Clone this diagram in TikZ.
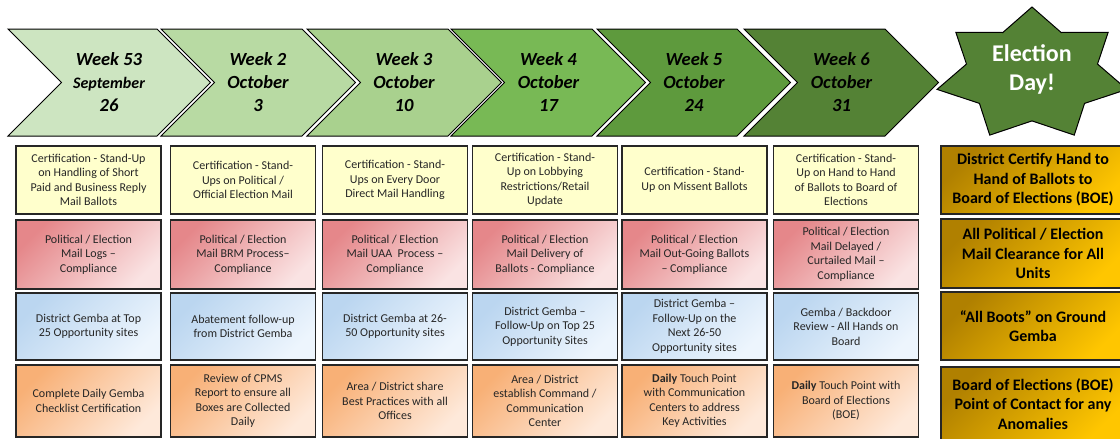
\documentclass[tikz,border=0pt]{standalone}
\usepackage{fontspec}
\setmainfont{Carlito}

\definecolor{wkA}{HTML}{CDE5C1}
\definecolor{wkB}{HTML}{B8DAA3}
\definecolor{wkC}{HTML}{A9D18E}
\definecolor{wkD}{HTML}{78B955}
\definecolor{wkE}{HTML}{5E9A3D}
\definecolor{wkF}{HTML}{548235}
\definecolor{certY}{HTML}{FFFFCC}
\definecolor{compA}{HTML}{E5878A}
\definecolor{compB}{HTML}{FAE3E3}
\definecolor{gembaA}{HTML}{BBD6F0}
\definecolor{gembaB}{HTML}{EDF5FD}
\definecolor{dailyA}{HTML}{F8B076}
\definecolor{dailyB}{HTML}{FEE9DA}
\definecolor{goldA}{HTML}{B08000}
\definecolor{goldB}{HTML}{FFC600}

\begin{document}
\begin{tikzpicture}[x=1pt, y=-1pt,
    chevron/.style={draw=black, line width=1pt},
    week/.style={align=center, inner sep=0pt, font=\fontsize{18.5}{23}\selectfont\bfseries\itshape},
    task/.style={draw=black!85, line width=1.3pt, align=center, minimum width=145pt,
        inner sep=1pt, text=black!85, font=\fontsize{12}{14.5}\selectfont},
    cert/.style={task, fill=certY, minimum height=68pt},
    comp/.style={task, top color=compA, bottom color=compB, shading angle=45, minimum height=69pt},
    gemba/.style={task, top color=gembaA, bottom color=gembaB, shading angle=45, minimum height=67pt},
    touch/.style={task, top color=dailyA, bottom color=dailyB, shading angle=45, minimum height=72pt},
    eday/.style={task, top color=goldA, bottom color=goldB, shading angle=45, minimum width=184pt,
        text=black, font=\fontsize{16}{19.5}\selectfont\bfseries}]
    \useasboundingbox (0, 0) rectangle (1120, 439);

    \draw[chevron, fill=wkA] (8, 29) -- (157, 29) -- (210.5, 82.5) -- (157, 136) -- (8, 136) -- (61.5, 82.5) -- cycle;
    \draw[chevron, fill=wkB] (161, 29) -- (302, 29) -- (355.5, 82.5) -- (302, 136) -- (161, 136) -- (214.5, 82.5) -- cycle;
    \draw[chevron, fill=wkC] (307, 29) -- (448, 29) -- (501.5, 82.5) -- (448, 136) -- (307, 136) -- (360.5, 82.5) -- cycle;
    \draw[chevron, fill=wkD] (451, 29) -- (592, 29) -- (645.5, 82.5) -- (592, 136) -- (451, 136) -- (504.5, 82.5) -- cycle;
    \draw[chevron, fill=wkE] (597, 29) -- (737, 29) -- (790.5, 82.5) -- (737, 136) -- (597, 136) -- (650.5, 82.5) -- cycle;
    \draw[chevron, fill=wkF] (744, 29) -- (885, 29) -- (938.5, 82.5) -- (885, 136) -- (744, 136) -- (797.5, 82.5) -- cycle;

    \node[week](wk_53) at (109, 82.5) {Week 53\\{\fontsize{16}{23}\selectfont September}\\26};
    \node[week](wk_2) at (258, 82.5) {Week 2\\October\\3};
    \node[week](wk_3) at (404, 82.5) {Week 3\\October\\10};
    \node[week](wk_4) at (548.5, 82.5) {Week 4\\October\\17};
    \node[week](wk_5) at (694, 82.5) {Week 5\\October\\24};
    \node[week](wk_6) at (841.5, 82.5) {Week 6\\October\\31};

    \draw[fill=wkF, line width=1pt] plot[variable=\t, samples at={0,...,13}]
        ({1032+97.4*(1-0.31*mod(\t,2))*cos(90+25.7143*\t)}, {74.4-67.4*(1-0.31*mod(\t,2))*sin(90+25.7143*\t)}) -- cycle;
    \node[align=center, text=white, font=\fontsize{24}{29}\selectfont\bfseries](eday) at (1032, 69) {Election\\Day!};

    \node[cert](cert_1) at (88.5, 180) {Certification - Stand-Up\\on Handling of Short\\Paid and Business Reply\\Mail Ballots};
    \node[cert](cert_2) at (243, 180) {Certification - Stand-\\Ups on Political /\\Official Election Mail};
    \node[cert](cert_3) at (395, 180) {Certification - Stand-\\Ups on Every Door\\Direct Mail Handling};
    \node[cert](cert_4) at (545, 180) {Certification - Stand-\\Up on Lobbying\\Restrictions/Retail\\Update};
    \node[cert](cert_5) at (694.5, 180) {Certification - Stand-\\Up on Missent Ballots};
    \node[cert](cert_6) at (846, 180) {Certification - Stand-\\Up on Hand to Hand\\of Ballots to Board of\\Elections};

    \node[comp](comp_1) at (88.5, 254.5) {Political / Election\\Mail Logs --\\Compliance};
    \node[comp](comp_2) at (243, 254.5) {Political / Election\\Mail BRM Process--\\Compliance};
    \node[comp](comp_3) at (395, 254.5) {Political / Election\\Mail UAA\ \ Process --\\Compliance};
    \node[comp](comp_4) at (545, 254.5) {Political / Election\\Mail Delivery of\\Ballots - Compliance};
    \node[comp](comp_5) at (694.5, 254.5) {Political / Election\\Mail Out-Going Ballots\\-- Compliance};
    \node[comp](comp_6) at (846, 254.5) {Political / Election\\Mail Delayed /\\Curtailed Mail --\\Compliance};

    \node[gemba](gemba_1) at (88.5, 326.5) {District Gemba at Top\\25 Opportunity sites};
    \node[gemba](gemba_2) at (243, 326.5) {Abatement follow-up\\from District Gemba};
    \node[gemba](gemba_3) at (395, 326.5) {District Gemba at 26-\\50 Opportunity sites};
    \node[gemba](gemba_4) at (545, 326.5) {District Gemba --\\Follow-Up on Top 25\\Opportunity Sites};
    \node[gemba](gemba_5) at (694.5, 326.5) {District Gemba --\\Follow-Up on the\\Next 26-50\\Opportunity sites};
    \node[gemba](gemba_6) at (846, 326.5) {Gemba / Backdoor\\Review - All Hands on\\Board};

    \node[touch](touch_1) at (88.5, 401) {Complete Daily Gemba\\Checklist Certification};
    \node[touch](touch_2) at (243, 401) {Review of CPMS\\Report to ensure all\\Boxes are Collected\\Daily};
    \node[touch](touch_3) at (395, 401) {Area / District share\\Best Practices with all\\Offices};
    \node[touch](touch_4) at (545, 401) {Area / District\\establish Command /\\Communication\\Center};
    \node[touch](touch_5) at (694.5, 401) {\textbf{Daily} Touch Point\\with Communication\\Centers to address\\Key Activities};
    \node[touch](touch_6) at (846, 401) {\textbf{Daily} Touch Point with\\Board of Elections\\(BOE)};

    \node[eday, minimum height=68pt](boe_1) at (1033, 180) {District Certify Hand to\\Hand of Ballots to\\Board of Elections (BOE)};
    \node[eday, minimum height=69pt](boe_2) at (1033, 253.5) {All Political / Election\\Mail Clearance for All\\Units};
    \node[eday, minimum height=68pt](boe_3) at (1033, 326) {“All Boots” on Ground\\Gemba};
    \node[eday, minimum height=74pt](boe_4) at (1033, 404) {Board of Elections (BOE)\\Point of Contact for any\\Anomalies};

\end{tikzpicture}
\end{document}
